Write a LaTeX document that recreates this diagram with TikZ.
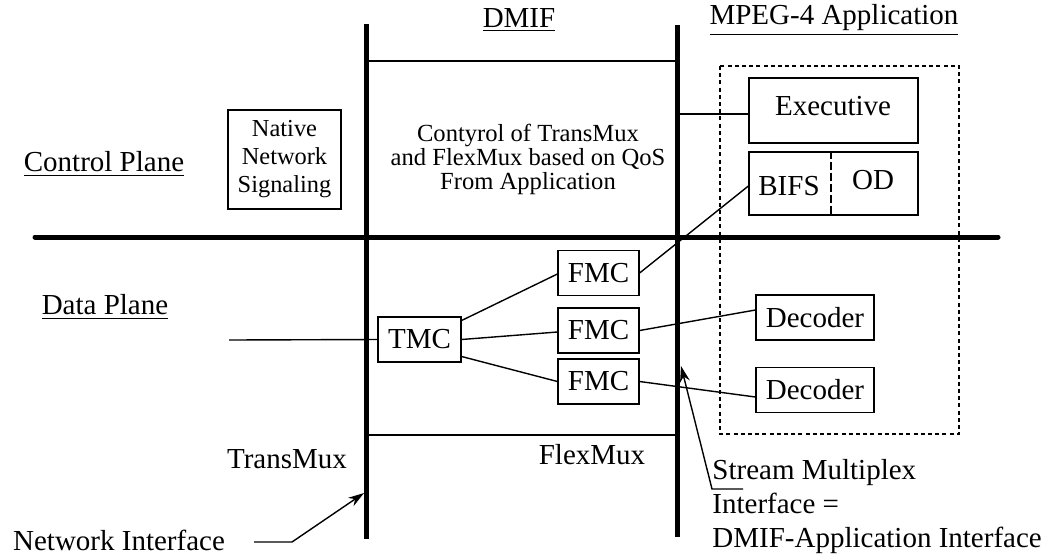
\documentclass[tikz,border=0pt]{standalone}
\usepackage{fontspec}
\setmainfont{Liberation Serif}
\usetikzlibrary{arrows.meta}
\tikzset{
  blk/.style={draw, line width=0.6pt, inner sep=0pt, minimum height=22.5pt, font=\fontsize{14.5}{17}\selectfont},
  lbl/.style={inner sep=0pt, font=\fontsize{14.5}{17}\selectfont},
  note/.style={inner sep=0pt, align=center, font=\fontsize{12.3}{12}\selectfont},
  bus/.style={line width=2.5pt},
  wire/.style={line width=0.7pt},
  pointer/.style={line width=0.7pt, -{Stealth[length=8pt,width=5pt]}}
}

\begin{document}
\begin{tikzpicture}[x=0.5pt,y=-0.5pt]
\useasboundingbox (0,0) rectangle (1054,558);
% Interface bars and plane divider
\coordinate (nitop) at (366,24);
\coordinate (nibot) at (366,539);
\coordinate (aitop) at (677,25);
\coordinate (aibot) at (677,537);
\coordinate (planel) at (35,237);
\coordinate (planer) at (998,237);
\draw[bus] (nitop) -- (nibot);
\draw[bus] (aitop) -- (aibot);
\draw[bus, line cap=round] (planel) -- (planer);
% DMIF bounds
\draw[wire] (nitop |- 0,61) -- (aitop |- 0,61);
\draw[wire] (nitop |- 0,435) -- (aitop |- 0,435);
% Headings
\node[lbl] (dmif) at (519,20) {\underline{DMIF}};
\node[lbl] (mpeg) at (834,20) {\underline{MPEG-4 Application}};
\node[lbl] (cplane) at (104,164) {\underline{Control Plane}};
\node[lbl] (dplane) at (105,307) {\underline{Data Plane}};
% Control plane
\node[draw, line width=0.6pt, minimum width=56.5pt, minimum height=49.5pt, inner sep=0pt,
      align=center, font=\fontsize{12.2}{14}\selectfont] (nns) at (284.5,159.5) {Native\\Network\\Signaling};
\node[note] (ctrl) at (528,159) {Contyrol of TransMux\\and FlexMux based on QoS\\From Application};
% Application
\draw[line width=0.6pt, dash pattern=on 2pt off 1.6pt] (720,66) rectangle (959,434);
\node[blk, minimum width=84.5pt, minimum height=32.5pt] (exec) at (833.5,110.5) {};
\node[lbl] (execl) at (833,106) {Executive};
\node[blk, minimum width=84.5pt, minimum height=31.5pt] (ctlbox) at (833.5,183.5) {};
\draw[line width=0.6pt, dash pattern=on 4pt off 1.5pt] ([xshift=-1.25pt]ctlbox.north) -- ([xshift=-1.25pt]ctlbox.south);
\node[lbl] (bifs) at (789,186) {BIFS};
\node[lbl] (od) at (873,180) {OD};
\node[blk, minimum width=59pt] (dec1) at (815,317.5) {Decoder};
\node[blk, minimum width=59pt] (dec2) at (815,390) {Decoder};
% Data plane channels
\node[blk, minimum width=41.5pt] (tmc) at (419.5,339.5) {TMC};
\node[blk, minimum width=40.5pt] (fmc1) at (598.5,273) {FMC};
\node[blk, minimum width=40.5pt] (fmc2) at (598.5,330.5) {FMC};
\node[blk, minimum width=40.5pt] (fmc3) at (598.5,381.5) {FMC};
\coordinate (netin) at (229,340);
\draw[wire] (netin) -- (tmc.west);
\draw[wire] ([yshift=9.5pt]tmc.east) -- ([yshift=-0.5pt]fmc1.west);
\draw[wire] (tmc.east) -- ([yshift=-0.75pt]fmc2.west);
\draw[wire] ([yshift=-8.5pt]tmc.east) -- (fmc3.west);
\draw[wire] (fmc1.east) -- (ctlbox.west |- bifs);
\draw[wire] (fmc2.east) -- ([yshift=3.75pt]dec1.west);
\draw[wire] (fmc3.east) -- ([yshift=-3.5pt]dec2.west);
\draw[wire] (aitop |- 0,114) -- (exec.west |- 0,114);
% Footer labels
\node[lbl] (tmux) at (287,459) {TransMux};
\node[lbl] (fmux) at (592,455) {FlexMux};
\node[lbl] (netif) at (119,540) {Network Interface};
\node[lbl, anchor=west, align=left] (smi) at (712,507) {Stream Multiplex\\Interface =\\DMIF-Application Interface};
% Pointers
\coordinate (nitail) at (254,542);
\coordinate (nitip) at (364,493);
\draw[pointer] (nitail) -- ++(38,0) -- (nitip);
\coordinate (smitail) at (743,489);
\coordinate (smitip) at (681,366);
\draw[pointer] (smitail) -- (712,489) -- (smitip);
\end{tikzpicture}
\end{document}
